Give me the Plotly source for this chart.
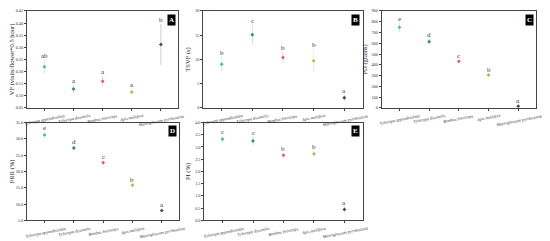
import plotly.graph_objects as go

species = ["Xylocopa appendiculata", "Xylocopa dissimilis", "Bombus breviceps",
           "Apis mellifera", "Macroglossum pyrrhosticta"]
colors = ["#44b8c4", "#2f8c8c", "#e0606a", "#c9b040", "#4a4a5a"]

vf = [0.220, 0.128, 0.160, 0.115, 0.312]
vf_err = [0.030, 0.018, 0.022, 0.012, 0.085]
vf_sig = ["ab", "a", "a", "a", "b"]

tsvf = [9.0, 15.1, 10.4, 9.7, 2.1]
tsvf_err = [1.5, 2.0, 1.2, 2.4, 0.6]
tsvf_sig = ["b", "c", "b", "b", "a"]

pd_ = [748, 615, 432, 305, 15]
pd_err = [45, 30, 18, 14, 10]
pd_sig = ["e", "d", "c", "b", "a"]

prr = [31.2, 27.2, 22.7, 15.8, 8.0]
prr_err = [0.8, 0.7, 0.6, 0.5, 0.4]
prr_sig = ["e", "d", "c", "b", "a"]

pi = [3.32, 3.25, 2.66, 2.72, 0.45]
pi_err = [0.12, 0.18, 0.08, 0.12, 0.10]
pi_sig = ["c", "c", "b", "b", "a"]

panels = [
    # values, errors, letters, y title, y range, dtick, tick format, tag
    (vf, vf_err, vf_sig, "VF (visits/flower*0.5 hour)", [0.05, 0.45], 0.05, ".2f", "A"),
    (tsvf, tsvf_err, tsvf_sig, "TSVF (s)", [0, 20], 5, "d", "B"),
    (pd_, pd_err, pd_sig, "PD (grains)", [0, 900], 100, "d", "C"),
    (prr, prr_err, prr_sig, "PRR (%)", [5, 35], 5, ".1f", "D"),
    (pi, pi_err, pi_sig, "PI (%)", [0, 4], 0.5, ".1f", "E"),
]

# page body has an 8px margin, so the figure is drawn 8px smaller and shifted
OFF = 8
W, H = 550 - OFF, 241 - OFF
boxes = [(25, 177, 9, 108), (202, 362, 9, 108), (381, 536, 9, 108),
         (25, 178, 123, 223), (203, 362, 123, 223)]


def rgba(h, a):
    return "rgba(%d,%d,%d,%.2f)" % (int(h[1:3], 16), int(h[3:5], 16), int(h[5:7], 16), a)


fig = go.Figure()
font = "Liberation Serif"

for i, (vals, errs, sig, ytitle, yr, dt, fmt, tag) in enumerate(panels):
    n = "" if i == 0 else str(i + 1)
    x0, x1, y0, y1 = [v - OFF for v in boxes[i]]
    pad = (yr[1] - yr[0]) * 0.04
    for j, s in enumerate(species):
        fig.add_trace(go.Scatter(
            x=[j], y=[vals[j]], mode="markers",
            marker=dict(color=colors[j], size=3, symbol="diamond"),
            error_y=dict(type="data", array=[errs[j]], color=rgba(colors[j], 0.45),
                         thickness=0.6, width=0),
            xaxis="x" + n, yaxis="y" + n, showlegend=False))
        fig.add_annotation(text="<i>%s</i>" % s, xref="x" + n, yref="y%s domain" % n,
                           x=j, y=-0.03, xanchor="center", yanchor="top",
                           textangle=-11, showarrow=False,
                           font=dict(family=font, size=4.2, color="#333"))
        fig.add_annotation(text=sig[j], xref="x" + n, yref="y" + n,
                           x=j, y=vals[j] + errs[j] + pad, showarrow=False,
                           font=dict(family=font, size=7, color="#333"))
    fig.update_layout(**{
        "xaxis" + n: dict(domain=[x0 / W, x1 / W], anchor="y" + n,
                          range=[-0.6, 4.6], tickvals=list(range(5)),
                          showticklabels=False, ticks="outside", ticklen=2,
                          showline=True, linecolor="#444", linewidth=0.8,
                          mirror=True, showgrid=False, zeroline=False),
        "yaxis" + n: dict(domain=[1 - y1 / H, 1 - y0 / H], anchor="x" + n,
                          range=yr, dtick=dt, tick0=yr[0], tickformat=fmt,
                          ticks="outside", ticklen=2,
                          tickfont=dict(family=font, size=4.3, color="#333"),
                          title=dict(text=ytitle, standoff=3,
                                     font=dict(family=font, size=6.5, color="#222")),
                          showline=True, linecolor="#444", linewidth=0.8,
                          mirror=True, showgrid=False, zeroline=False),
    })
    fig.add_annotation(text="<b>%s</b>" % tag, xref="x%s domain" % n,
                       yref="y%s domain" % n, x=0.985, y=0.97,
                       xanchor="right", yanchor="top", showarrow=False,
                       bgcolor="black", font=dict(family=font, size=7, color="white"),
                       borderpad=1)

fig.update_layout(width=W, height=H, margin=dict(l=0, r=0, t=0, b=0),
                  plot_bgcolor="white", paper_bgcolor="white")
fig.write_html("out.html")
